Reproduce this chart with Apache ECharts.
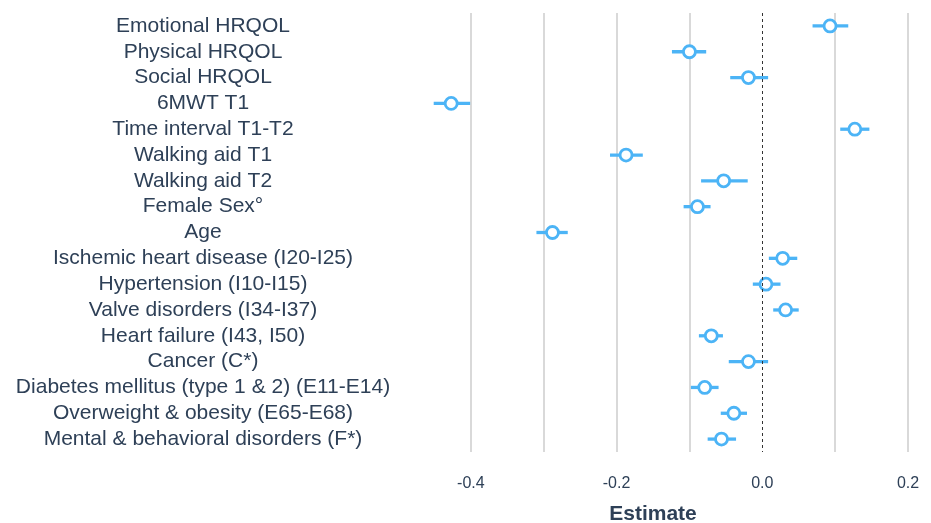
<!DOCTYPE html>
<html>
<head>
<meta charset="utf-8">
<script src="https://cdn.jsdelivr.net/npm/echarts@6/dist/echarts.min.js"></script>
<style>
  html, body { margin: 0; padding: 0; background: #fff; }
  #chart { width: 931px; height: 523px; }
</style>
</head>
<body>
<div id="chart"></div>
<script>
// forest plot: estimate + CI per predictor
const categories = [
  'Emotional HRQOL',
  'Physical HRQOL',
  'Social HRQOL',
  '6MWT T1',
  'Time interval T1-T2',
  'Walking aid T1',
  'Walking aid T2',
  'Female Sex°',
  'Age',
  'Ischemic heart disease (I20-I25)',
  'Hypertension (I10-I15)',
  'Valve disorders (I34-I37)',
  'Heart failure (I43, I50)',
  'Cancer (C*)',
  'Diabetes mellitus (type 1 & 2) (E11-E14)',
  'Overweight & obesity (E65-E68)',
  'Mental & behavioral disorders (F*)'
];
const estimates = [0.093, -0.100, -0.019, -0.427, 0.127, -0.187, -0.053, -0.089, -0.288,
  0.028, 0.005, 0.032, -0.070, -0.019, -0.079, -0.039, -0.056];
const ciLow = [0.069, -0.124, -0.044, -0.451, 0.107, -0.209, -0.084, -0.108, -0.310,
  0.009, -0.013, 0.015, -0.087, -0.046, -0.098, -0.057, -0.075];
const ciHigh = [0.118, -0.077, 0.008, -0.401, 0.147, -0.164, -0.020, -0.071, -0.267,
  0.048, 0.025, 0.050, -0.054, 0.008, -0.060, -0.021, -0.036];
const xTickLabels = ['-0.4', '-0.2', '0.0', '0.2'];

const BLUE = '#4cb4f6';
const TEXT = '#2e4057';

const chart = echarts.init(document.getElementById('chart'));

const ciData = categories.map((c, i) => [ciLow[i], ciHigh[i], c]);
const pointData = categories.map((c, i) => [estimates[i], c]);

chart.setOption({
  animation: false,
  grid: { left: 398, right: 23, top: 13, bottom: 71, containLabel: false, outerBoundsMode: 'none' },
  xAxis: {
    type: 'value',
    min: -0.5,
    max: 0.2,
    interval: 0.1,
    name: 'Estimate',
    nameLocation: 'middle',
    nameGap: 52,
    nameTextStyle: { fontFamily: 'Liberation Sans', fontSize: 21, fontWeight: 'bold', color: TEXT },
    axisLine: { show: false },
    axisTick: { show: false },
    axisLabel: {
      fontFamily: 'Liberation Sans',
      fontSize: 16,
      color: TEXT,
      margin: 24,
      formatter: function (v) {
        const s = (Math.abs(v) < 1e-9 ? 0 : v).toFixed(1);
        return xTickLabels.indexOf(s) >= 0 ? s : '';
      }
    },
    splitLine: {
      show: true,
      showMinLine: false,
      lineStyle: {
        color: ['#cccccc', '#cccccc', '#cccccc', '#cccccc', 'rgba(0,0,0,0)', '#cccccc', '#cccccc'],
        width: 1.5
      }
    }
  },
  yAxis: {
    type: 'category',
    data: categories,
    inverse: true,
    axisLine: { show: false },
    axisTick: { show: false },
    splitLine: { show: false },
    axisLabel: {
      interval: 0,
      fontFamily: 'Liberation Sans',
      fontSize: 21,
      color: TEXT,
      align: 'center',
      margin: 195
    }
  },
  series: [
    {
      type: 'custom',
      data: ciData,
      dimensions: ['low', 'high', 'name'],
      encode: { x: ['low', 'high'], y: 'name' },
      renderItem: function (params, api) {
        const a = api.coord([api.value(0), api.value(2)]);
        const b = api.coord([api.value(1), api.value(2)]);
        return {
          type: 'line',
          shape: { x1: a[0], y1: a[1], x2: b[0], y2: b[1] },
          style: { stroke: BLUE, lineWidth: 3.3 }
        };
      },
      z: 2
    },
    {
      type: 'scatter',
      data: pointData,
      symbol: 'circle',
      symbolSize: 12,
      itemStyle: { color: '#fff', borderColor: BLUE, borderWidth: 2.8, opacity: 1 },
      markLine: {
        silent: true,
        symbol: 'none',
        label: { show: false },
        lineStyle: { color: '#333', width: 1, type: [3, 3] },
        data: [{ xAxis: 0 }]
      },
      z: 3
    }
  ]
});
</script>
</body>
</html>
